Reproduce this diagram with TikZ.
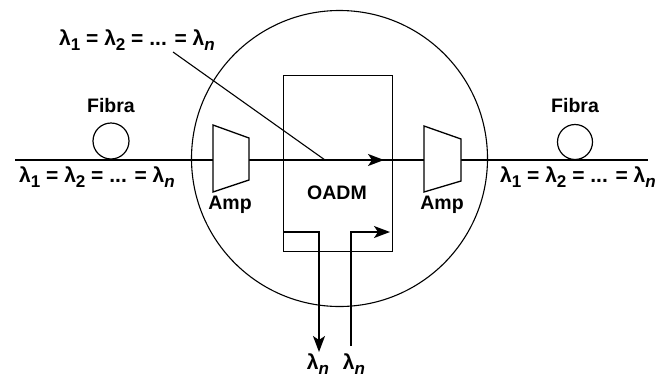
\documentclass[tikz,border=0pt]{standalone}
\usepackage{fontspec}
\setmainfont{Liberation Sans}
\usetikzlibrary{arrows.meta}
\newcommand{\lsub}[1]{\raisebox{-0.4ex}{\fontsize{17}{17}\selectfont #1}}
\newcommand{\lamn}{λ\lsub{\textit{n}}}
\newcommand{\lamseq}{λ\lsub{1} = λ\lsub{2} = ... = \lamn}
\tikzset{
  lbl/.style={font=\fontsize{19.5}{21}\selectfont\bfseries, inner sep=0pt},
  lamlbl/.style={font=\fontsize{21}{23}\selectfont\bfseries, inner sep=0pt},
  thick line/.style={line width=1.8pt},
  thin line/.style={line width=1.1pt},
  head/.style={-{Stealth[length=16pt,width=12pt,inset=4pt]}},
  ampshape/.style={line width=1.3pt, fill=white},
}
\begin{document}
\begin{tikzpicture}[x=1pt,y=-1pt]
\useasboundingbox (0,0) rectangle (666,381);
% ring
\node[draw, circle, line width=1.1pt, minimum size=296pt, inner sep=0pt] (ring) at (339.5,158.5) {};
% coordinates
\coordinate (L) at (15,160);
\coordinate (R) at (648,160);
\coordinate (a1in) at (213,160);
\coordinate (a1out) at (249,160);
\coordinate (a2in) at (424,160);
\coordinate (a2out) at (461,160);
\coordinate (dstart) at (173,52);
\coordinate (djoin) at (325,160);
\coordinate (mtip) at (384,160);
% main line
\draw[thick line] (L) -- (a1in);
\draw[thick line] (a1out) -- (a2in);
\draw[thick line] (a2out) -- (R);
% fibre loops
\node[draw, circle, line width=1.2pt, minimum size=36pt, inner sep=0pt] (f1) at (111,141) {};
\node[draw, circle, line width=1.2pt, minimum size=35pt, inner sep=0pt] (f2) at (575,142) {};
% amplifiers
\draw[ampshape] (213,125) -- (249,138) -- (249,180) -- (213,192) -- cycle;
\draw[ampshape] (424,126) -- (461,139) -- (461,181) -- (424,192) -- cycle;
% OADM box
\node[draw, line width=1.4pt, minimum width=109pt, minimum height=176pt, inner sep=0pt, anchor=north west] (oadm) at (283,75) {};
\node[lbl] (oadmlbl) at (337,193) {OADM};
% diagonal add
\draw[thin line] (dstart) -- (djoin);
\draw[thick line, head] (djoin) -- (mtip);
% drop and add
\coordinate (dropa) at (283,232);
\coordinate (droptip) at (319,352);
\coordinate (addb) at (351,346);
\coordinate (addtip) at (390,232);
\draw[line width=1.4pt, head] (dropa) -| (droptip);
\draw[line width=1.4pt, head] (addb) |- (addtip);
% labels
\node[lbl] (fib1) at (111,106) {Fibra};
\node[lbl] (fib2) at (575,106) {Fibra};
\node[lbl] (amp1) at (230,205) {Amp};
\node[lbl] (amp2) at (442,205) {Amp};
\node[lamlbl] (lamtop) at (137,40) {\lamseq};
\node[lamlbl] (lamleft) at (97,177) {\lamseq};
\node[lamlbl] (lamright) at (578,177) {\lamseq};
\node[lamlbl] (lamd) at (318,364) {\lamn};
\node[lamlbl] (lama) at (354,364) {\lamn};
\end{tikzpicture}
\end{document}
